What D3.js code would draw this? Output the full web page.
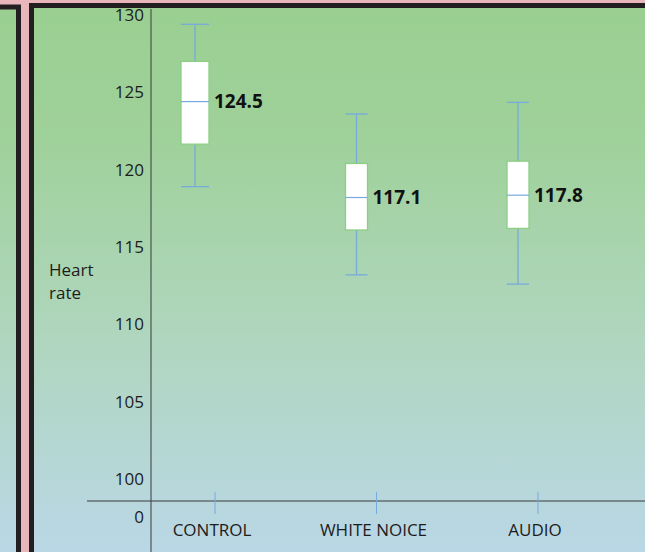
<!DOCTYPE html>
<html>
<head>
<meta charset="utf-8">
<script src="https://cdn.jsdelivr.net/npm/d3@7"></script>
<style>
  html, body { margin: 0; padding: 0; background: #e9b7bb; }
  svg { display: block; }
  text { font-family: "Open Sans", "Noto Sans", sans-serif; }
</style>
</head>
<body>
<svg id="chart" width="645" height="552"></svg>
<script>
// ---- data ----
const categories = ["CONTROL", "WHITE NOICE", "AUDIO"];
const whiskerLow = [118.9, 113.2, 112.6];
const q1 = [121.65, 116.1, 116.2];
const median = [124.4, 118.2, 118.35];
const q3 = [127.0, 120.4, 120.55];
const whiskerHigh = [129.4, 123.6, 124.35];
const valueLabels = ["124.5", "117.1", "117.8"];
const yTicks = [100, 105, 110, 115, 120, 125, 130];
const yBreakLabel = "0";
const yTitle = ["Heart", "rate"];

const svg = d3.select("#chart");
const W = 645, H = 552;

// background gradient
const defs = svg.append("defs");
const grad = defs.append("linearGradient").attr("id", "bg")
  .attr("gradientUnits", "userSpaceOnUse")
  .attr("x1", 0).attr("y1", 0).attr("x2", 0).attr("y2", H);
grad.append("stop").attr("offset", "0").attr("stop-color", "#9acf91");
grad.append("stop").attr("offset", "0.25").attr("stop-color", "#9fd19a");
grad.append("stop").attr("offset", "0.6").attr("stop-color", "#afd6bd");
grad.append("stop").attr("offset", "1").attr("stop-color", "#bad7e6");

svg.append("rect").attr("width", W).attr("height", H).attr("fill", "#e9b7bb");
// left panel
svg.append("rect").attr("x", -20).attr("y", 7).attr("width", 38.5).attr("height", H + 20)
  .attr("fill", "url(#bg)").attr("stroke", "#231f20").attr("stroke-width", 5);
// main panel
svg.append("rect").attr("x", 31.5).attr("y", 5.5).attr("width", W + 20).attr("height", H + 20)
  .attr("fill", "url(#bg)").attr("stroke", "#231f20").attr("stroke-width", 5);

// scales
const y = d3.scaleLinear().domain([100, 130]).range([479, 15]);
const x = d3.scalePoint().domain(categories).range([215, 538]);
const axisX = 151, axisY = 501;
const boxOffset = -20;

const g = svg.append("g");

// axis lines
g.append("line").attr("x1", axisX).attr("x2", axisX).attr("y1", 9).attr("y2", H)
  .attr("stroke", "#3a3a3a").attr("stroke-width", 1);
g.append("line").attr("x1", 87).attr("x2", W).attr("y1", axisY).attr("y2", axisY)
  .attr("stroke", "#3a3a3a").attr("stroke-width", 1);

// y tick labels
g.selectAll(".ytl").data(yTicks).join("text")
  .attr("class", "ytl")
  .attr("x", 144).attr("y", d => y(d)).attr("dy", "0.36em")
  .attr("text-anchor", "end").attr("font-size", 17).attr("fill", "#1c1c1c")
  .text(d => d);
g.append("text").attr("x", 144).attr("y", 517).attr("dy", "0.36em")
  .attr("text-anchor", "end").attr("font-size", 17).attr("fill", "#1c1c1c")
  .text(yBreakLabel);

// y title
g.selectAll(".yt").data(yTitle).join("text")
  .attr("class", "yt")
  .attr("x", 49).attr("y", (d, i) => 270 + i * 23).attr("dy", "0.36em")
  .attr("font-size", 17).attr("fill", "#1c1c1c")
  .text(d => d);

// x ticks and labels
g.selectAll(".xt").data(categories).join("line")
  .attr("class", "xt")
  .attr("x1", d => x(d)).attr("x2", d => x(d))
  .attr("y1", 492).attr("y2", 514)
  .attr("stroke", "#78aadc").attr("stroke-width", 1);
g.selectAll(".xl").data(categories).join("text")
  .attr("class", "xl")
  .attr("x", d => x(d) - 3).attr("y", 530).attr("dy", "0.36em")
  .attr("text-anchor", "middle").attr("font-size", 17).attr("fill", "#1c1c1c")
  .text(d => d);

// boxes
const boxW = i => (i === 0 ? 28 : 22);
const whiskerColor = "#78aadc";
categories.forEach((c, i) => {
  const cx = x(c) + boxOffset;
  const w = boxW(i);
  const bg = g.append("g");
  bg.append("line").attr("x1", cx).attr("x2", cx)
    .attr("y1", y(whiskerHigh[i])).attr("y2", y(q3[i]))
    .attr("stroke", whiskerColor).attr("stroke-width", 1.3);
  bg.append("line").attr("x1", cx).attr("x2", cx)
    .attr("y1", y(q1[i])).attr("y2", y(whiskerLow[i]))
    .attr("stroke", whiskerColor).attr("stroke-width", 1.3);
  [whiskerHigh[i], whiskerLow[i]].forEach(v => {
    bg.append("line").attr("x1", cx - w / 2).attr("x2", cx + w / 2)
      .attr("y1", y(v)).attr("y2", y(v))
      .attr("stroke", whiskerColor).attr("stroke-width", 1.3);
  });
  bg.append("rect").attr("x", cx - w / 2).attr("y", y(q3[i]))
    .attr("width", w).attr("height", y(q1[i]) - y(q3[i]))
    .attr("fill", "#ffffff").attr("stroke", "#8ccf84").attr("stroke-width", 1.3);
  bg.append("line").attr("x1", cx - w / 2).attr("x2", cx + w / 2)
    .attr("y1", y(median[i])).attr("y2", y(median[i]))
    .attr("stroke", whiskerColor).attr("stroke-width", 1.2);
  bg.append("text").attr("x", cx + w / 2 + 5).attr("y", y(median[i])).attr("dy", "0.36em")
    .attr("font-size", 19).attr("font-weight", "bold").attr("fill", "#111")
    .text(valueLabels[i]);
});
</script>
</body>
</html>
